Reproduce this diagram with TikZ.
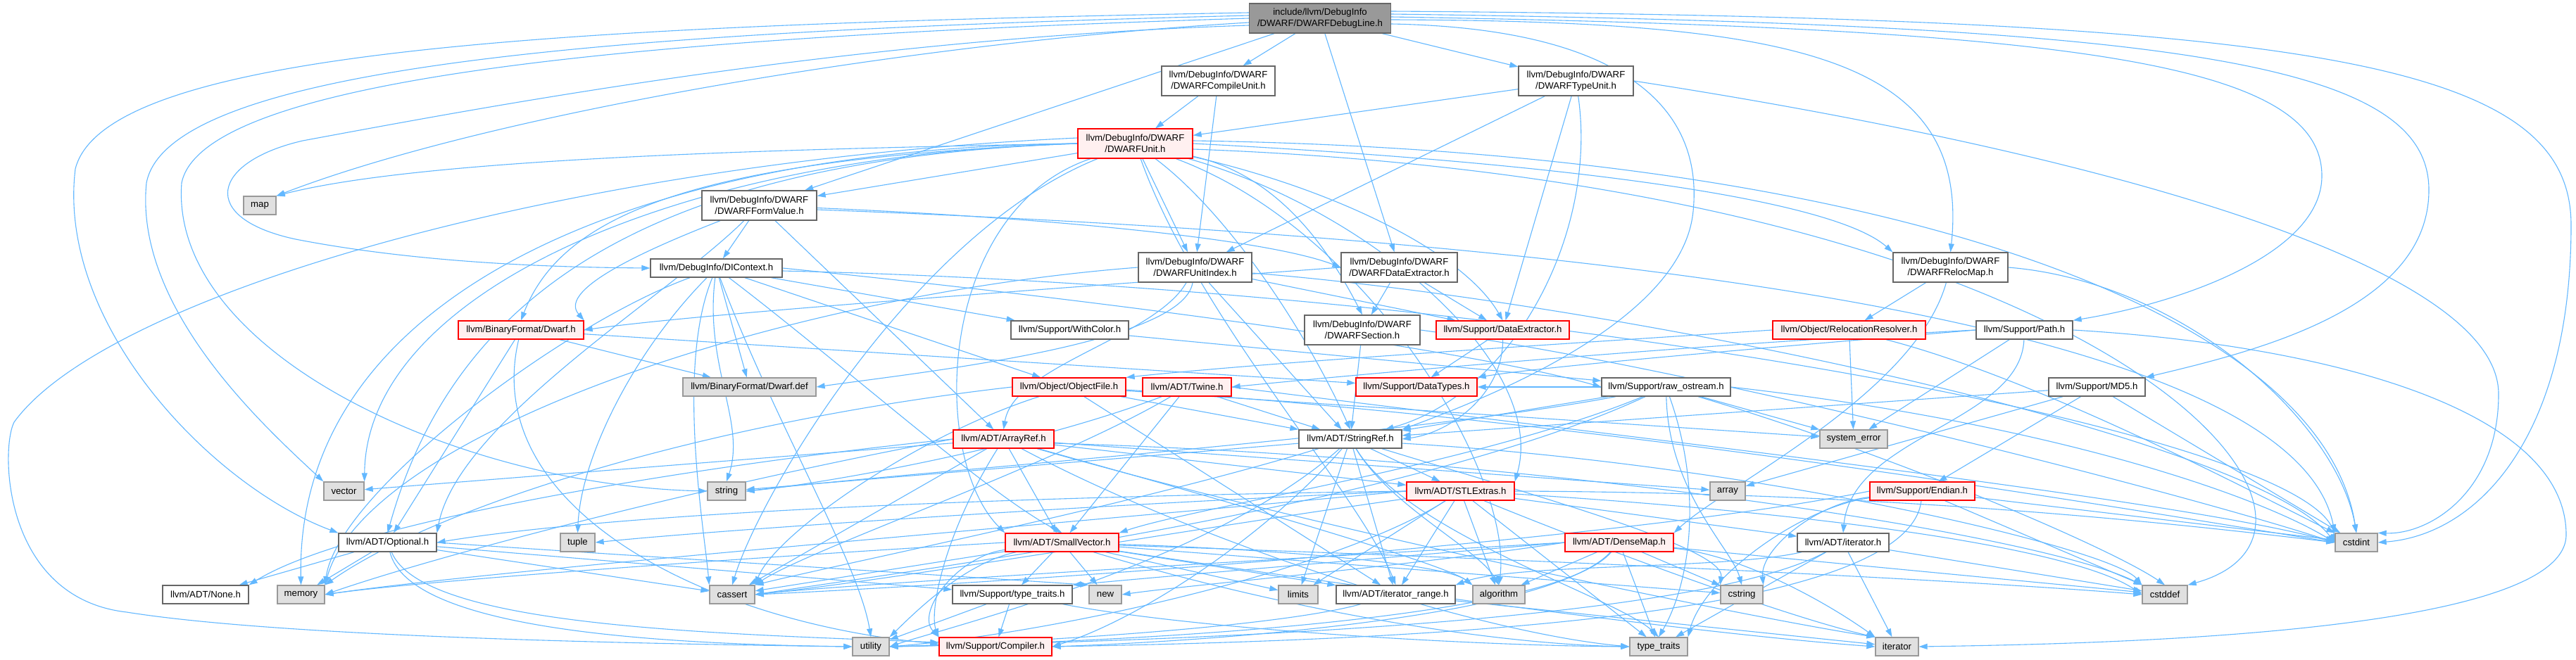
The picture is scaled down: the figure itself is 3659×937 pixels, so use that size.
\documentclass[tikz,border=0pt]{standalone}
\usepackage{fontspec}
\setmainfont{Liberation Sans}
\usetikzlibrary{arrows.meta}
\pgfdeclarelayer{bg}
\pgfdeclarelayer{edges}
\pgfsetlayers{bg,edges,main}
\definecolor{edgec}{HTML}{63B8FF}
\definecolor{bordg}{HTML}{666666}
\definecolor{bordl}{HTML}{999999}
\definecolor{fillg}{HTML}{E0E0E0}
\definecolor{fillr}{HTML}{FFF0F0}
\definecolor{fillroot}{HTML}{999999}
\newcommand{\gnfont}{\fontsize{13.2}{15.5}\selectfont}
\tikzset{
 nd/.style={draw=bordg, fill=white, line width=1.3pt, inner sep=0pt, minimum height=26pt, align=center, font=\gnfont},
 gr/.style={nd, draw=bordl, fill=fillg},
 rd/.style={nd, draw=red, fill=fillr},
 rt/.style={nd, fill=fillroot},
 dbl/.style={minimum height=42pt},
 edg/.style={draw=edgec, line width=1.1pt, -{Triangle[length=12pt,width=8pt]}}
}
\begin{document}
\begin{tikzpicture}[x=1pt,y=-1pt]
\useasboundingbox (0,0) rectangle (3659,937);
\begin{pgfonlayer}{bg}
\fill[white] (0,0) rectangle (3659,937);
\end{pgfonlayer}
% nodes
\node[rt, dbl, minimum width=201pt] (dl) at (1875,26) {include/llvm/DebugInfo\\/DWARF/DWARFDebugLine.h};
\node[nd, dbl, minimum width=161pt] (cu) at (1730.5,115) {llvm/DebugInfo/DWARF\\/DWARFCompileUnit.h};
\node[nd, dbl, minimum width=163pt] (tu) at (2238.5,115) {llvm/DebugInfo/DWARF\\/DWARFTypeUnit.h};
\node[rd, dbl, minimum width=163pt] (un) at (1612.5,204) {llvm/DebugInfo/DWARF\\/DWARFUnit.h};
\node[gr, minimum width=46pt] (map) at (369,292) {map};
\node[nd, dbl, minimum width=163pt] (fv) at (1078.5,292) {llvm/DebugInfo/DWARF\\/DWARFFormValue.h};
\node[nd, minimum width=187pt] (dic) at (1017.5,381) {llvm/DebugInfo/DIContext.h};
\node[nd, dbl, minimum width=161pt] (ui) at (1697.5,380) {llvm/DebugInfo/DWARF\\/DWARFUnitIndex.h};
\node[nd, dbl, minimum width=165pt] (dde) at (1987.5,380) {llvm/DebugInfo/DWARF\\/DWARFDataExtractor.h};
\node[nd, dbl, minimum width=163pt] (rm) at (2770.5,380) {llvm/DebugInfo/DWARF\\/DWARFRelocMap.h};
\node[nd, dbl, minimum width=164pt] (sec) at (1935,469) {llvm/DebugInfo/DWARF\\/DWARFSection.h};
\node[rd, minimum width=189pt] (sde) at (2134.5,469) {llvm/Support/DataExtractor.h};
\node[rd, minimum width=217pt] (rr) at (2626.5,469) {llvm/Object/RelocationResolver.h};
\node[nd, minimum width=137pt] (path) at (2875.5,469) {llvm/Support/Path.h};
\node[rd, minimum width=178pt] (dwh) at (740,469) {llvm/BinaryFormat/Dwarf.h};
\node[nd, minimum width=167pt] (wc) at (1519.5,469) {llvm/Support/WithColor.h};
\node[gr, minimum width=189pt] (ddef) at (1064.5,550) {llvm/BinaryFormat/Dwarf.def};
\node[rd, minimum width=161pt] (of) at (1518.5,550) {llvm/Object/ObjectFile.h};
\node[rd, minimum width=126pt] (tw) at (1686,550) {llvm/ADT/Twine.h};
\node[rd, minimum width=172pt] (dt) at (2012,550) {llvm/Support/DataTypes.h};
\node[nd, minimum width=183pt] (ros) at (2366.5,550) {llvm/Support/raw\_ostream.h};
\node[nd, minimum width=137pt] (md5) at (2978.5,550) {llvm/Support/MD5.h};
\node[gr, minimum width=96pt] (syserr) at (2633,624) {system\_error};
\node[rd, minimum width=143pt] (ar) at (1425.5,624) {llvm/ADT/ArrayRef.h};
\node[nd, minimum width=146pt] (sr) at (1918,624) {llvm/ADT/StringRef.h};
\node[gr, minimum width=57pt] (vec) at (488.5,698) {vector};
\node[gr, minimum width=54pt] (str) at (1032,698) {string};
\node[rd, minimum width=153pt] (stl) at (2074.5,698) {llvm/ADT/STLExtras.h};
\node[gr, minimum width=50pt] (arr) at (2454,698) {array};
\node[rd, minimum width=149pt] (end) at (2730.5,698) {llvm/Support/Endian.h};
\node[nd, minimum width=139pt] (opt) at (550.5,771) {llvm/ADT/Optional.h};
\node[gr, minimum width=49pt] (tup) at (820.5,771) {tuple};
\node[rd, minimum width=161pt] (sv) at (1508.5,771) {llvm/ADT/SmallVector.h};
\node[rd, minimum width=154pt] (dm) at (2300,771) {llvm/ADT/DenseMap.h};
\node[nd, minimum width=130pt] (ith) at (2618,771) {llvm/ADT/iterator.h};
\node[gr, minimum width=60pt] (cint) at (3347,771) {cstdint};
\node[nd, minimum width=122pt] (none) at (292,845) {llvm/ADT/None.h};
\node[gr, minimum width=67pt] (mem) at (427.5,845) {memory};
\node[gr, minimum width=64pt] (cas) at (1040,845) {cassert};
\node[nd, minimum width=170pt] (stt) at (1438,845) {llvm/Support/type\_traits.h};
\node[gr, minimum width=46pt] (new) at (1570,845) {new};
\node[gr, minimum width=56pt] (lim) at (1844,845) {limits};
\node[nd, minimum width=169pt] (itr) at (1982.5,845) {llvm/ADT/iterator\_range.h};
\node[gr, minimum width=74pt] (alg) at (2129,845) {algorithm};
\node[gr, minimum width=60pt] (cstr) at (2474,845) {cstring};
\node[gr, minimum width=64pt] (cdef) at (3075,845) {cstddef};
\node[gr, minimum width=52pt] (util) at (1237,919) {utility};
\node[rd, minimum width=160pt] (comp) at (1414,919) {llvm/Support/Compiler.h};
\node[gr, minimum width=82pt] (tt) at (2356,919) {type\_traits};
\node[gr, minimum width=61pt] (iter) at (2694.5,919) {iterator};
\begin{pgfonlayer}{edges}
% DWARFDebugLine.h
\draw[edg] (dl) -- (cu);
\draw[edg] (dl) -- (tu);
\draw[edg] (dl) -- (fv);
\draw[edg] (dl) -- (dde);
\draw[edg] ([yshift=-6pt]dl.west) .. controls (1300,60) and (700,160) .. (map.north east);
\draw[edg] ([yshift=-10pt]dl.west) .. controls (1200,55) and (700,150) .. (430,200) .. controls (300,230) and (280,310) .. (420,340) .. controls (600,375) and (800,380) .. (dic.west);
\draw[edg] ([yshift=8pt]dl.west) .. controls (800,36) and (150,70) .. (107,240) .. controls (80,460) and (300,690) .. (opt.north west);
\draw[edg] ([yshift=4pt]dl.west) .. controls (900,44) and (240,90) .. (208,260) .. controls (190,440) and (380,610) .. (vec.north west);
\draw[edg] ([yshift=0pt]dl.west) .. controls (1000,50) and (290,100) .. (258,260) .. controls (240,500) and (650,690) .. (str.west);
\draw[edg] ([yshift=-8pt]dl.east) .. controls (2300,40) and (2420,150) .. (2405,300) .. controls (2390,460) and (2100,570) .. (sr.north east);
\draw[edg] ([yshift=-2pt]dl.east) .. controls (2550,30) and (2800,80) .. (rm.north);
\draw[edg] ([yshift=2pt]dl.east) .. controls (2950,40) and (3298,90) .. (3298,250) .. controls (3298,360) and (3100,430) .. (path.north east);
\draw[edg] ([yshift=6pt]dl.east) .. controls (3100,35) and (3450,90) .. (3450,270) .. controls (3450,440) and (3200,500) .. (md5.north east);
\draw[edg] ([yshift=10pt]dl.east) .. controls (3300,25) and (3652,90) .. (3652,320) .. controls (3652,620) and (3520,760) .. (cint.east);
% CompileUnit, TypeUnit
\draw[edg] (cu) -- (un);
\draw[edg] (cu) -- (ui);
\draw[edg] (tu) -- (un);
\draw[edg] (tu) -- (ui);
\draw[edg] (tu) -- (sde);
\draw[edg] (tu) .. controls (2270,330) and (2150,560) .. (sr);
\draw[edg] (tu.east) .. controls (3000,220) and (3549,380) .. (3549,560) .. controls (3549,700) and (3450,760) .. (cint.north east);
% DWARFUnit.h
\draw[edg] (un.west) .. controls (1100,212) and (600,225) .. (map.north east);
\draw[edg] (un) -- (fv);
\draw[edg] (un) -- (ui);
\draw[edg] (un.east) .. controls (2200,230) and (2600,280) .. (rm.north west);
\draw[edg] (un) .. controls (1820,250) and (1890,360) .. (sec.north);
\draw[edg] (un) .. controls (1900,270) and (2080,360) .. (sde.north);
\draw[edg] (un.west) .. controls (1000,225) and (800,300) .. (dwh.north);
\draw[edg] (un) .. controls (1740,300) and (1850,460) .. (sr.north);
\draw[edg] (un) .. controls (1950,300) and (2200,520) .. (stl.north east);
\draw[edg] (un) .. controls (1330,300) and (1320,650) .. (sv.north west);
\draw[edg] (un.west) .. controls (950,225) and (650,400) .. (opt.north);
\draw[edg] (un) .. controls (1700,450) and (1930,700) .. (itr.north);
\draw[edg] (un) .. controls (1950,330) and (2150,680) .. (alg.north);
\draw[edg] (un) .. controls (1300,330) and (1080,700) .. (cas.north);
\draw[edg] ([yshift=-8pt]un.east) .. controls (3000,260) and (3400,750) .. (cdef.north east);
\draw[edg] ([yshift=4pt]un.east) .. controls (2700,215) and (3300,450) .. (cint.north);
\draw[edg] (un.west) .. controls (900,210) and (420,420) .. (mem.north);
\draw[edg] ([yshift=8pt]un.west) .. controls (800,230) and (150,420) .. (20,600) .. controls (0,640) and (5,850) .. (180,870) .. controls (400,905) and (900,915) .. (util.west);
\draw[edg] (un.west) .. controls (950,220) and (520,420) .. (vec.north east);
% DWARFFormValue.h
\draw[edg] (fv) -- (ar);
\draw[edg] (fv) .. controls (950,420) and (650,600) .. (opt.north east);
\draw[edg] (fv) .. controls (930,350) and (790,410) .. (dwh.north east);
\draw[edg] (fv) -- (dic);
\draw[edg] (fv) .. controls (1500,310) and (1800,340) .. (dde.west);
\draw[edg] ([yshift=-6pt]fv.east) .. controls (2000,330) and (3250,420) .. (cint.north west);
% DIContext.h
\draw[edg] (dic) .. controls (1200,520) and (1400,700) .. (sv.north);
\draw[edg] (dic) -- (of);
\draw[edg] (dic) -- (wc);
\draw[edg] (dic.east) .. controls (1600,430) and (2100,500) .. (ros.west);
\draw[edg] (dic) .. controls (960,520) and (1000,750) .. (cas.north west);
\draw[edg] ([yshift=-4pt]dic.east) .. controls (2200,410) and (3300,620) .. (cint.west);
\draw[edg] (dic) .. controls (800,460) and (480,700) .. (mem.north east);
\draw[edg] (dic) .. controls (1000,520) and (1060,600) .. (str.north);
\draw[edg] (dic) .. controls (900,500) and (825,650) .. (tup.north);
\draw[edg] (dic) .. controls (1100,600) and (1220,800) .. (util.north);
\draw[edg] (dic) -- (ddef);
% DWARFUnitIndex.h
\draw[edg] (ui) .. controls (1640,480) and (1440,520) .. (ar.north);
\draw[edg] (ui) -- (sr);
\draw[edg] (ui) -- (sde);
\draw[edg] ([yshift=-8pt]ui.east) .. controls (2300,430) and (3200,620) .. (cint.west);
\draw[edg] (ui.west) .. controls (1100,420) and (520,620) .. (mem.north east);
\draw[edg] (ui) .. controls (1680,490) and (1300,530) .. (ddef.east);
% DWARFDataExtractor.h
\draw[edg] (dde.west) .. controls (1500,410) and (1000,445) .. (dwh.east);
\draw[edg] (dde) -- (sec);
\draw[edg] (dde) -- (sde);
% DWARFRelocMap.h
\draw[edg] (rm) .. controls (2720,560) and (2450,690) .. (dm.north east);
\draw[edg] (rm) -- (rr);
\draw[edg] (rm.east) .. controls (3100,400) and (3320,600) .. (cint.north);
% DWARFSection.h
\draw[edg] (sec) -- (sr);
\draw[edg] (sec.east) .. controls (2400,520) and (3100,700) .. (cint.west);
% Support/DataExtractor.h
\draw[edg] (sde) .. controls (2135,560) and (2060,615) .. (sr.east);
\draw[edg] (sde) -- (dt);
% RelocationResolver.h
\draw[edg] (rr.west) .. controls (2200,490) and (1800,515) .. (of.north east);
\draw[edg] (rr) -- (syserr);
\draw[edg] (rr) .. controls (2900,540) and (3200,700) .. (cint.north west);
% Path.h
\draw[edg] (path.west) .. controls (2400,490) and (1950,530) .. (tw.east);
\draw[edg] (path.west) .. controls (2500,495) and (2200,520) .. (dt.north east);
\draw[edg] (path) -- (syserr);
\draw[edg] (path) .. controls (2870,600) and (2630,620) .. (ith.north);
\draw[edg] (path.east) .. controls (3300,490) and (3645,580) .. (3645,760) .. controls (3645,900) and (3000,915) .. (iter.east);
% Dwarf.h
\draw[edg] (dwh) -- (opt);
\draw[edg] (dwh) .. controls (680,720) and (1000,885) .. ([yshift=4pt]comp.west);
\draw[edg] (dwh) -- (dt);
\draw[edg] (dwh) -- (ddef);
% WithColor.h
\draw[edg] (wc) -- (ros);
% ObjectFile.h
\draw[edg] (of) -- (sr);
\draw[edg] (of) -- (itr);
\draw[edg] (of) .. controls (1300,620) and (1100,760) .. (cas.north east);
\draw[edg] ([yshift=-4pt]of.east) .. controls (2300,600) and (3000,720) .. (cint.west);
\draw[edg] (of.west) .. controls (1000,600) and (620,720) .. (mem.north east);
\draw[edg] (of) -- (syserr);
% Twine.h
\draw[edg] (tw) -- (sv);
\draw[edg] (tw) -- (sr);
\draw[edg] (tw) .. controls (1500,660) and (1150,780) .. (cas.north east);
\draw[edg] (tw.east) .. controls (2300,620) and (3100,710) .. (cint.west);
\draw[edg] (tw) .. controls (1450,640) and (1150,690) .. (str.east);
% raw_ostream.h
\draw[edg] (ros) .. controls (2100,660) and (1700,720) .. (sv.north east);
\draw[edg] (ros) -- (sr);
\draw[edg] (ros) -- (dt);
\draw[edg] (ros) .. controls (2000,720) and (1300,810) .. (cas.east);
\draw[edg] (ros) .. controls (2700,650) and (3000,780) .. (cdef.north);
\draw[edg] (ros.east) .. controls (2900,600) and (3200,700) .. (cint.west);
\draw[edg] (ros) .. controls (2370,700) and (2460,780) .. (cstr.north);
\draw[edg] (ros) .. controls (2000,620) and (1300,670) .. (str.east);
\draw[edg] (ros) -- (syserr);
\draw[edg] (ros) .. controls (2420,700) and (2400,830) .. (tt.north);
% MD5.h
\draw[edg] (md5) -- (sr);
\draw[edg] (md5) -- (end);
\draw[edg] (md5) -- (arr);
\draw[edg] (md5) -- (cint);
% ArrayRef.h
\draw[edg] (ar.west) .. controls (1000,660) and (500,740) .. (none.north east);
\draw[edg] (ar) -- (stl);
\draw[edg] (ar) -- (sv);
\draw[edg] (ar) .. controls (1340,760) and (1320,870) .. (comp.north west);
\draw[edg] (ar) .. controls (1700,700) and (2050,800) .. (alg.north west);
\draw[edg] (ar) -- (arr);
\draw[edg] (ar) -- (cas);
\draw[edg] ([yshift=-6pt]ar.east) .. controls (2200,650) and (2900,760) .. (cdef.north west);
\draw[edg] (ar) .. controls (1900,760) and (2500,880) .. (iter.north west);
\draw[edg] (ar.west) .. controls (1000,690) and (620,790) .. (mem.east);
\draw[edg] (ar) .. controls (1700,770) and (2100,900) .. (tt.west);
\draw[edg] (ar) -- (vec);
% StringRef.h
\draw[edg] (sr) -- (stl);
\draw[edg] (sr) -- (itr);
\draw[edg] (sr) .. controls (1800,760) and (1620,880) .. (comp.east);
\draw[edg] (sr) .. controls (1975,720) and (2100,780) .. (alg.north);
\draw[edg] (sr) .. controls (1600,720) and (1200,800) .. (cas.north east);
\draw[edg] ([yshift=-6pt]sr.east) .. controls (2500,660) and (3000,780) .. (cdef.north west);
\draw[edg] (sr) .. controls (2200,710) and (2450,780) .. (cstr.north west);
\draw[edg] (sr) -- (lim);
\draw[edg] (sr) -- (str);
\draw[edg] (sr) .. controls (2000,760) and (2300,850) .. (tt.north);
\draw[edg] (sr) .. controls (1720,800) and (1350,890) .. (util.east);
% STLExtras.h
\draw[edg] (stl.west) .. controls (1500,705) and (900,725) .. (opt.east);
\draw[edg] (stl) -- (ith);
\draw[edg] (stl) -- (itr);
\draw[edg] (stl) -- (alg);
\draw[edg] (stl) .. controls (1700,750) and (1300,820) .. (cas.east);
\draw[edg] ([yshift=-4pt]stl.east) .. controls (2600,730) and (2950,780) .. (cdef.west);
\draw[edg] (stl.east) .. controls (2700,700) and (3100,745) .. (cint.west);
\draw[edg] (stl) .. controls (2300,790) and (2550,880) .. (iter.north west);
\draw[edg] (stl) -- (lim);
\draw[edg] (stl.west) .. controls (1500,745) and (700,810) .. (mem.east);
\draw[edg] (stl.west) .. controls (1500,720) and (1000,755) .. (tup.east);
\draw[edg] (stl) -- (tt);
\draw[edg] (stl) .. controls (1900,810) and (1500,900) .. (util.east);
% Endian.h
\draw[edg] (end) .. controls (2710,880) and (2000,910) .. (comp.east);
\draw[edg] (end.west) .. controls (2300,770) and (1400,830) .. (cas.east);
\draw[edg] (end) -- (cdef);
\draw[edg] (end) -- (cint);
\draw[edg] (end) .. controls (2580,715) and (2500,780) .. (cstr.north east);
\draw[edg] (end) .. controls (2560,720) and (2420,820) .. (tt.north east);
% Optional.h
\draw[edg] (opt) -- (none);
\draw[edg] (opt) .. controls (600,890) and (1000,900) .. ([yshift=6pt]comp.west);
\draw[edg] (opt) -- (stt);
\draw[edg] (opt) -- (cas);
\draw[edg] (opt) -- (mem);
\draw[edg] (opt.east) .. controls (900,790) and (1300,815) .. (new.north west);
\draw[edg] (opt) .. controls (580,890) and (900,915) .. (util.west);
% SmallVector.h
\draw[edg] (sv) -- (itr);
\draw[edg] (sv) .. controls (1360,790) and (1300,870) .. (comp.north west);
\draw[edg] (sv) -- (stt);
\draw[edg] (sv) .. controls (1800,780) and (2050,800) .. (alg.north west);
\draw[edg] (sv) -- (cas);
\draw[edg] ([yshift=-4pt]sv.east) .. controls (2200,795) and (2800,825) .. (cdef.west);
\draw[edg] (sv) -- (cstr);
\draw[edg] (sv) .. controls (1900,830) and (2400,900) .. (iter.west);
\draw[edg] (sv) -- (lim);
\draw[edg] (sv.west) .. controls (1100,790) and (600,825) .. (mem.east);
\draw[edg] (sv) -- (new);
\draw[edg] (sv) .. controls (1800,860) and (2100,915) .. (tt.west);
\draw[edg] (sv) .. controls (1370,800) and (1300,870) .. (util.north east);
% DenseMap.h
\draw[edg] (dm) .. controls (2200,880) and (1700,912) .. (comp.east);
\draw[edg] (dm.west) .. controls (2000,790) and (1700,815) .. (stt.north east);
\draw[edg] (dm) -- (alg);
\draw[edg] (dm.west) .. controls (1900,790) and (1200,830) .. (cas.east);
\draw[edg] (dm) -- (cdef);
\draw[edg] (dm) -- (cstr);
\draw[edg] (dm) .. controls (2480,790) and (2600,860) .. (iter.north west);
\draw[edg] (dm.west) .. controls (2000,805) and (1700,830) .. (new.east);
\draw[edg] (dm) -- (tt);
\draw[edg] (dm) .. controls (2200,890) and (1500,915) .. (util.east);
% iterator.h
\draw[edg] (ith) .. controls (2450,810) and (2150,800) .. (itr.north east);
\draw[edg] (ith) -- (cdef);
\draw[edg] (ith) -- (iter);
\draw[edg] (ith) -- (tt);
\draw[edg] (ith) .. controls (2400,890) and (1600,912) .. (util.east);
% iterator_range.h
\draw[edg] (itr) -- (iter);
\draw[edg] (itr) .. controls (1800,895) and (1400,915) .. (util.east);
% type_traits.h
\draw[edg] (stt) -- (comp);
\draw[edg] (stt) .. controls (1700,895) and (2100,918) .. (tt.west);
\draw[edg] (stt) -- (util);
\end{pgfonlayer}
\end{tikzpicture}
\end{document}
